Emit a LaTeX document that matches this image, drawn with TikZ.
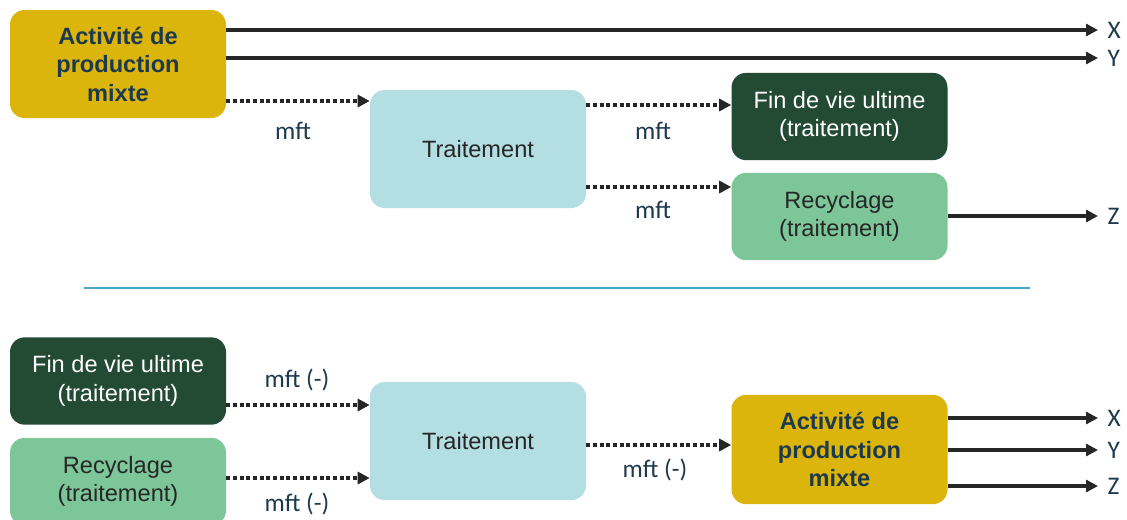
\documentclass[tikz,border=0pt]{standalone}
\usepackage{fontspec}
\setmainfont{Liberation Sans}
\newfontfamily\labelfont{Carlito}
\usepackage{xcolor}
\usetikzlibrary{arrows.meta, positioning, calc}
\definecolor{prodgold}{HTML}{DBB40C}
\definecolor{traitcyan}{HTML}{B3DFE2}
\definecolor{findark}{HTML}{234B33}
\definecolor{recgreen}{HTML}{7DC699}
\definecolor{sepblue}{HTML}{4BA6C8}
\definecolor{navytext}{HTML}{1D3A4C}
\definecolor{arrowgray}{HTML}{262626}
\tikzset{
  procbox/.style={
    draw=none, rounded corners=11pt, align=center, inner sep=0pt,
    font=\fontsize{17.7}{21.2}\selectfont, minimum width=162pt
  },
  prodbox/.style={
    procbox, fill=prodgold, text=navytext,
    font=\fontsize{17.7}{21.4}\selectfont\bfseries, minimum height=81pt
  },
  traitbox/.style={
    procbox, fill=traitcyan, text=black!85, minimum height=88.5pt
  },
  finbox/.style={
    procbox, fill=findark, text=white, minimum height=65.5pt
  },
  recbox/.style={
    procbox, fill=recgreen, text=black!85, minimum height=65.5pt
  },
  flowarrow/.style={
    -{Triangle[length=9pt,width=9pt]}, line width=2.5pt, color=arrowgray
  },
  mftarrow/.style={
    flowarrow, line width=3pt, dash pattern=on 3pt off 2pt
  },
  flowlabel/.style={
    font=\labelfont\fontsize{19}{22}\selectfont, text=navytext
  },
  outlabel/.style={
    flowlabel, anchor=west, inner xsep=7pt, inner ysep=0pt
  },
}

\begin{document}
\begin{tikzpicture}[x=0.75pt, y=-0.75pt]
  \clip (0,0) rectangle (1127,519);

  % Top: allocation by the mixed activity
  \node[prodbox] (prodTop) at (118,64) {Activité de\\production\\mixte};
  \node[traitbox] (traitTop) at (478,149) {Traitement};
  \node[finbox] (finTop) at (839.5,116.5) {Fin de vie ultime\\(traitement)};
  \node[recbox] (recTop) at (839.5,216.5) {Recyclage\\(traitement)};

  \node[outlabel] (xTop) at (1098,30) {X};
  \node[outlabel] (yTop) at (1098,58) {Y};
  \node[outlabel] (zTop) at (1098,216) {Z};

  \draw[flowarrow] (prodTop.east |- xTop) -- (xTop.west);
  \draw[flowarrow] (prodTop.east |- yTop) -- (yTop.west);
  \draw[flowarrow] (recTop.east |- zTop) -- (zTop.west);

  \draw[mftarrow] (prodTop.east |- 0,101) -- (traitTop.west |- 0,101);
  \draw[mftarrow] (traitTop.east |- 0,105) -- (finTop.west |- 0,105);
  \draw[mftarrow] (traitTop.east |- 0,187) -- (recTop.west |- 0,187);
  \node[flowlabel] (mftA) at (293,131) {mft};
  \node[flowlabel] (mftB) at (653,131) {mft};
  \node[flowlabel] (mftC) at (653,210) {mft};

  % Separator
  \coordinate (sepL) at (84,288);
  \coordinate (sepR) at (1030,288);
  \draw[sepblue, line width=1.1pt] (sepL) -- (sepR);

  % Bottom: substitution (negative flows)
  \node[finbox] (finBot) at (118,381) {Fin de vie ultime\\(traitement)};
  \node[recbox] (recBot) at (118,481.5) {Recyclage\\(traitement)};
  \node[traitbox] (traitBot) at (478,441) {Traitement};
  \node[prodbox, minimum height=82pt] (prodBot) at (839.5,449.5) {Activité de\\production\\mixte};

  \node[outlabel] (xBot) at (1098,418) {X};
  \node[outlabel] (yBot) at (1098,450) {Y};
  \node[outlabel] (zBot) at (1098,486) {Z};

  \draw[flowarrow] (prodBot.east |- xBot) -- (xBot.west);
  \draw[flowarrow] (prodBot.east |- yBot) -- (yBot.west);
  \draw[flowarrow] (prodBot.east |- zBot) -- (zBot.west);

  \draw[mftarrow] (finBot.east |- 0,405) -- (traitBot.west |- 0,405);
  \draw[mftarrow] (recBot.east |- 0,478) -- (traitBot.west |- 0,478);
  \draw[mftarrow] (traitBot.east |- 0,445) -- (prodBot.west |- 0,445);
  \node[flowlabel] (mftD) at (297,380) {mft (-)};
  \node[flowlabel] (mftE) at (297,504) {mft (-)};
  \node[flowlabel] (mftF) at (655,470) {mft (-)};
\end{tikzpicture}
\end{document}
